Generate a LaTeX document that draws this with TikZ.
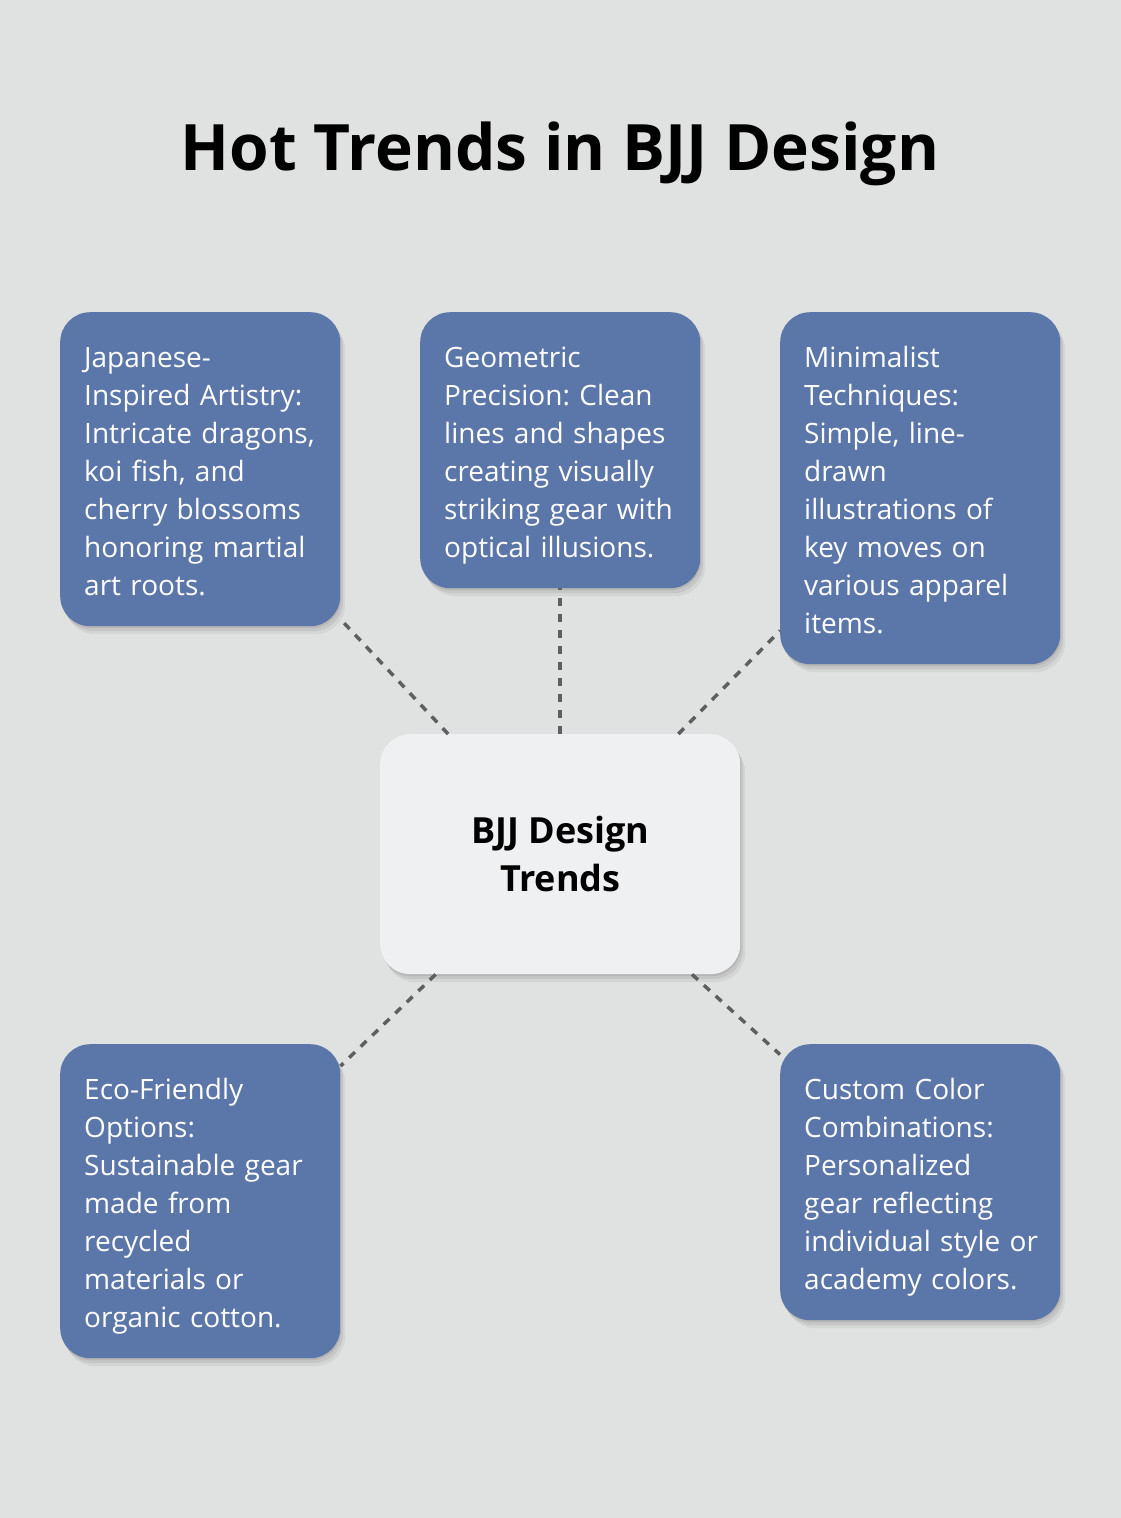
\documentclass[tikz,border=0pt]{standalone}
\usepackage{fontspec}
\setmainfont{Open Sans}
\definecolor{bgcol}{HTML}{E0E2E1}
\definecolor{trendblue}{HTML}{5B76A8}
\definecolor{hubcol}{HTML}{EFF0F2}
\definecolor{dashcol}{HTML}{5F5F5F}
\newcommand\firstln{\rule{0pt}{31pt}}
\newcommand\lastln{\rule[-7pt]{0pt}{7pt}}
\tikzset{
  softshadow/.style={
    preaction={fill=black, fill opacity=0.05, transform canvas={xshift=5pt, yshift=-8pt}},
    preaction={fill=black, fill opacity=0.07, transform canvas={xshift=3pt, yshift=-5pt}},
    preaction={fill=black, fill opacity=0.08, transform canvas={xshift=1pt, yshift=-2pt}}},
  trend/.style={fill=trendblue, text=white, rounded corners=30pt, anchor=north west,
    minimum width=280pt, text width=232pt, align=left, inner sep=0pt,
    font=\fontsize{28}{38}\selectfont\frenchspacing, softshadow},
  hub/.style={fill=hubcol, rounded corners=30pt, anchor=north west,
    minimum width=360pt, minimum height=240pt, align=center, inner sep=0pt,
    font=\fontsize{36}{48}\selectfont\bfseries, softshadow},
  link/.style={draw=dashcol, line width=3.5pt, dash pattern=on 8pt off 8pt}
}
\begin{document}
\begin{tikzpicture}[x=1pt,y=-1pt]
  \useasboundingbox (0,0) rectangle (1120,1518);
  \fill[bgcol] (-30,-30) rectangle (1150,1548);

  \node[font=\fontsize{64}{70}\selectfont\bfseries] (title) at (560,154) {Hot Trends in BJJ Design};

  % centre
  \node[hub] (hub) at (380,734) {\rule{0pt}{4pt}BJJ Design\\Trends};

  % trends
  \node[trend, minimum height=314pt] (japan) at (60,312)
    {\firstln Japanese-\\Inspired Artistry:\\Intricate dragons,\\koi fish, and\\cherry blossoms\\honoring martial\\art roots.\lastln};
  \node[trend, minimum height=276pt] (geo) at (420,312)
    {\firstln Geometric\\Precision: Clean\\lines and shapes\\creating visually\\striking gear with\\optical illusions.\lastln};
  \node[trend, minimum height=352pt] (mini) at (780,312)
    {\firstln Minimalist\\Techniques:\\Simple, line-\\drawn\\illustrations of\\key moves on\\various apparel\\items.\lastln};
  \node[trend, minimum height=314pt] (eco) at (60,1044)
    {\firstln Eco-Friendly\\Options:\\Sustainable gear\\made from\\recycled\\materials or\\organic cotton.\lastln};
  \node[trend, minimum height=276pt] (color) at (780,1044)
    {\firstln Custom Color\\Combinations:\\Personalized\\gear reflecting\\\mbox{individual style or}\\academy colors.\lastln};

  % connectors
  \draw[link] (hub) -- (japan);
  \draw[link] (hub) -- (geo);
  \draw[link] (hub) -- (mini);
  \draw[link] (hub) -- (eco);
  \draw[link] (hub) -- (color);
\end{tikzpicture}
\end{document}
